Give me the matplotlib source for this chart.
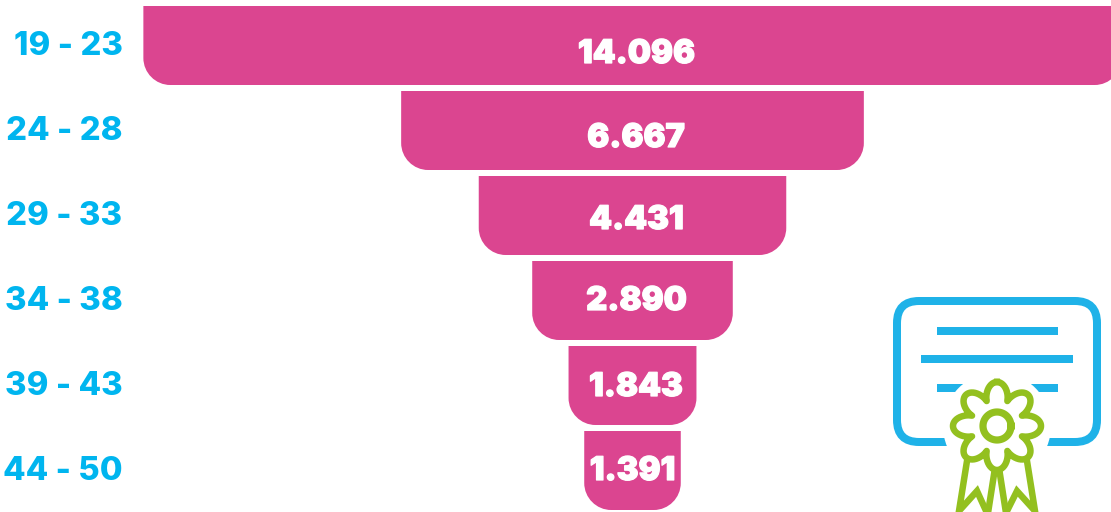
import matplotlib

matplotlib.use("Agg")
import matplotlib.pyplot as plt
import matplotlib.patheffects as pe
import numpy as np
from matplotlib.patches import Circle, FancyBboxPatch, PathPatch
from matplotlib.path import Path

W, H = 1111, 512

age_groups = ["19 - 23", "24 - 28", "29 - 33", "34 - 38", "39 - 43", "44 - 50"]
counts = [14096, 6667, 4431, 2890, 1843, 1391]
count_labels = ["14.096", "6.667", "4.431", "2.890", "1.843", "1.391"]

PINK = "#DB4590"
CYAN = "#00B5EF"
ICON_BLUE = "#1FB2E8"
ICON_GREEN = "#93C01F"

plt.rcParams["font.family"] = ["Inter", "Roboto", "DejaVu Sans"]

# layout of the funnel, in pixels
PX_PER_UNIT = 0.0694
CENTER_X = 632.5
ROW_STEP = 85.0
FIRST_ROW_Y = 45.5
BAR_H = 79 / ROW_STEP
RADIUS = 27.0

# the value labels are not quite centred in the original
text_dx = [4, 3.5, 4, 4, 3.5, 0]
text_dy = [9, 8, 5, 1, 2, 1]


def funnel_bar(ax, value, row):
    """Centred bar with rounded bottom corners, y axis points down."""
    half = value / 2
    top = row - BAR_H / 2
    bottom = row + BAR_H / 2
    rx = RADIUS / PX_PER_UNIT
    ry = RADIUS / ROW_STEP
    k = 0.45
    verts = [
        (-half, top),
        (half, top),
        (half, bottom - ry),
        (half, bottom - ry * k),
        (half - rx * k, bottom),
        (half - rx, bottom),
        (-half + rx, bottom),
        (-half + rx * k, bottom),
        (-half, bottom - ry * k),
        (-half, bottom - ry),
        (-half, top),
    ]
    codes = [Path.MOVETO, Path.LINETO, Path.LINETO, Path.CURVE4, Path.CURVE4,
             Path.CURVE4, Path.LINETO, Path.CURVE4, Path.CURVE4, Path.CURVE4,
             Path.CLOSEPOLY]
    ax.add_patch(PathPatch(Path(verts, codes), facecolor=PINK, edgecolor="none"))


def draw_icon(ax):
    lw = 8 * 0.72
    green_lw = 6.5 * 0.72
    # certificate frame and text lines
    ax.add_patch(FancyBboxPatch((897 + 22, 301 + 22), 200 - 44, 141 - 44,
                                boxstyle="round,pad=22,rounding_size=22",
                                fill=False, edgecolor=ICON_BLUE, linewidth=lw))
    for x0, x1, y in [(937, 1058, 331), (921, 1073, 359), (937, 1058, 388)]:
        ax.plot([x0, x1], [y, y], color=ICON_BLUE, lw=lw, solid_capstyle="butt")

    cx, cy = 997, 426

    # white halo cuts the frame behind the rosette
    ax.add_patch(Circle((cx, cy), 54, facecolor="white", edgecolor="none", zorder=3))

    ribbons = [
        [(967, 461), (959, 511), (977, 491), (987, 513)],
        [(995, 468), (988, 513)],
        [(999, 468), (1006, 513)],
        [(1006, 513), (1017, 491), (1035, 511), (1027, 461)],
    ]
    for pts in ribbons:
        xs, ys = zip(*pts)
        ax.plot(xs, ys, color=ICON_GREEN, lw=green_lw, zorder=4,
                solid_joinstyle="miter")

    theta = np.linspace(0, 2 * np.pi, 721)
    r = 27 + 17 * np.abs(np.cos(4 * theta)) ** 0.8
    fx = cx + r * np.sin(theta)
    fy = cy - r * np.cos(theta)
    ax.fill(fx, fy, color="white", zorder=5)
    ax.plot(fx, fy, color=ICON_GREEN, lw=green_lw, zorder=6)
    ring = np.linspace(0, 2 * np.pi, 121)
    ax.plot(cx + 14 * np.cos(ring), cy + 14 * np.sin(ring),
            color=ICON_GREEN, lw=lw * 0.9, zorder=6)


fig = plt.figure(figsize=(W / 100, H / 100), dpi=100, facecolor="white")

ax = fig.add_axes([0, 0, 1, 1])
ax.set_xlim(-CENTER_X / PX_PER_UNIT, (W - CENTER_X) / PX_PER_UNIT)
ax.set_ylim((H - FIRST_ROW_Y) / ROW_STEP, -FIRST_ROW_Y / ROW_STEP)
ax.axis("off")

for row, (value, text) in enumerate(zip(counts, count_labels)):
    funnel_bar(ax, value, row)
    t = ax.text(text_dx[row] / PX_PER_UNIT, row + text_dy[row] / ROW_STEP, text,
                color="white", fontsize=23.5, fontweight=900,
                ha="center", va="center")
    t.set_path_effects([pe.withStroke(linewidth=0.9, foreground="white")])

icon_ax = fig.add_axes([0, 0, 1, 1])
icon_ax.set_xlim(0, W)
icon_ax.set_ylim(H, 0)
icon_ax.axis("off")
icon_ax.patch.set_alpha(0)

for row, label in enumerate(age_groups):
    y = FIRST_ROW_Y + row * ROW_STEP + 1
    icon_ax.text(122.5, y, label, color=CYAN, fontsize=23.7, fontweight=800,
                 ha="right", va="center")

draw_icon(icon_ax)

fig.savefig("out.png", dpi=100, facecolor="white")
plt.close(fig)
